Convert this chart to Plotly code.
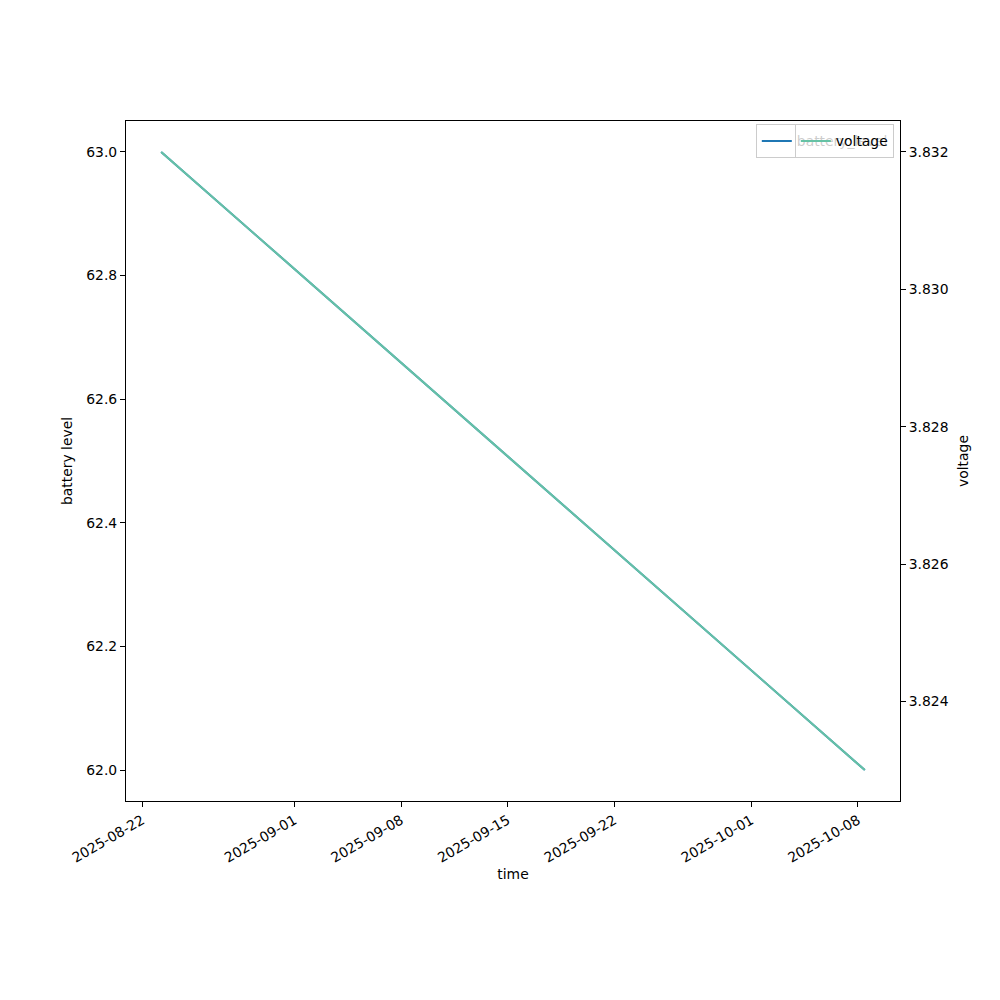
import plotly.graph_objects as go
import pandas as pd

time = ["2025-08-23 06:00", "2025-10-08 11:00"]
battery_level = [63.0, 62.0]
voltage = [3.832, 3.823]
x_ticks = ["2025-08-22", "2025-09-01", "2025-09-08", "2025-09-15",
           "2025-09-22", "2025-10-01", "2025-10-08"]
y1_ticks = [62.0, 62.2, 62.4, 62.6, 62.8, 63.0]
y2_ticks = [3.824, 3.826, 3.828, 3.830, 3.832]


def padded(lo, hi, frac=0.05):
    d = hi - lo
    return [lo - frac * d, hi + frac * d]


t = pd.to_datetime(time)
span = t.max() - t.min()
x_range = [t.min() - span * 0.05, t.max() + span * 0.05]

font = dict(family="DejaVu Sans", size=13.9, color="black")

fig = go.Figure()
fig.add_trace(go.Scatter(x=t, y=battery_level, mode="lines", name="battery_level",
                         line=dict(color="#1f77b4", width=2), yaxis="y", legend="legend"))
fig.add_trace(go.Scatter(x=t, y=voltage, mode="lines", name="voltage",
                         line=dict(color="#66c2a5", width=2), yaxis="y2", legend="legend2"))

axis_common = dict(showgrid=False, zeroline=False, showline=True, linecolor="black",
                   linewidth=1, ticks="outside", ticklen=5, tickwidth=1, tickcolor="black",
                   tickfont=font, automargin=False)

fig.update_layout(
    width=1000, height=1000,
    margin=dict(l=118, r=108, t=113, b=207),
    paper_bgcolor="white", plot_bgcolor="white",
    font=font,
    showlegend=True,
    xaxis=dict(range=x_range, tickvals=pd.to_datetime(x_ticks), tickformat="%Y-%m-%d",
               tickangle=-30, mirror=True, title=dict(text="time", font=font, standoff=3),
               **axis_common),
    yaxis=dict(range=padded(min(battery_level), max(battery_level)), tickvals=y1_ticks,
               tickformat=".1f", title=dict(text="battery level", font=font, standoff=10),
               **axis_common),
    yaxis2=dict(range=padded(min(voltage), max(voltage)), tickvals=y2_ticks,
                tickformat=".3f", overlaying="y", side="right",
                title=dict(text="voltage", font=font, standoff=10),
                **axis_common),
    legend=dict(x=0.992, y=0.995, xanchor="right", yanchor="top",
                bgcolor="rgba(255,255,255,0.8)", bordercolor="#cccccc", borderwidth=1,
                font=font, itemwidth=30),
    legend2=dict(x=0.992, y=0.995, xanchor="right", yanchor="top",
                 bgcolor="rgba(255,255,255,0.8)", bordercolor="#cccccc", borderwidth=1,
                 font=font, itemwidth=30),
)

fig.write_html("out.html")
